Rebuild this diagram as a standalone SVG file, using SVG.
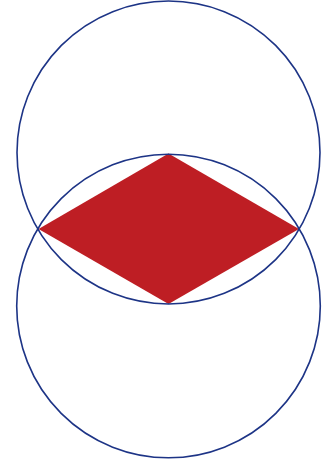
<svg xmlns="http://www.w3.org/2000/svg" width="324" height="464" viewBox="0 0 324 464">
<style>
.c{fill:none;stroke:#1d3486;stroke-width:1.6}
.d{fill:#be1e24;stroke:none}
</style>
<rect width="324" height="464" fill="#ffffff"/>
<g id="diamond"><polygon class="d" points="168.5,153.5 38.5,229 168.5,304 299,229"/></g>
<g id="circle-top"><circle class="c" cx="168.5" cy="152.5" r="151.5"/></g>
<g id="circle-bottom"><circle class="c" cx="168.5" cy="306" r="151.8"/></g>
</svg>
